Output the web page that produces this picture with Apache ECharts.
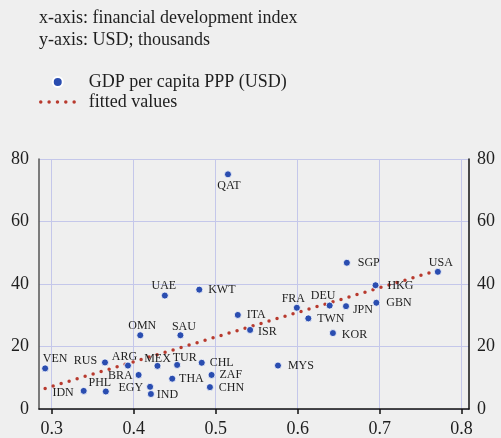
<!DOCTYPE html>
<html>
<head>
<meta charset="utf-8">
<script src="https://cdn.jsdelivr.net/npm/echarts@6/dist/echarts.min.js"></script>
<style>
  html, body { margin: 0; padding: 0; background: #efefef; }
  #chart { width: 501px; height: 438px; }
</style>
</head>
<body>
<div id="chart"></div>
<script>
// Country codes with financial development index (x) and GDP per capita PPP, USD thousands (y)
const countries = ['QAT','UAE','KWT','SGP','USA','HKG','GBN','FRA','DEU','JPN','TWN','ITA','ISR','KOR',
                   'OMN','SAU','VEN','RUS','ARG','MEX','TUR','CHL','MYS','BRA','THA','ZAF','EGY','CHN','IND','IDN','PHL'];
const finDev    = [0.515,0.438,0.480,0.660,0.771,0.695,0.696,0.599,0.639,0.659,0.613,0.527,0.542,0.643,
                   0.408,0.457,0.292,0.365,0.393,0.429,0.453,0.483,0.576,0.406,0.447,0.495,0.420,0.493,0.421,0.339,0.366];
const gdpPpp    = [75.1,36.3,38.2,46.8,43.9,39.6,34.0,32.4,33.1,32.9,29.0,30.1,25.3,24.3,
                   23.6,23.6,13.0,14.9,13.9,13.8,14.1,14.8,13.9,10.9,9.7,10.9,7.1,7.0,4.8,5.8,5.6];

// Fitted regression line, evaluated at the smallest and largest index values
const fitX = [0.292, 0.771];
const fitY = [6.6, 44.4];

const xTicks = [0.3, 0.4, 0.5, 0.6, 0.7, 0.8];
const yTicks = [0, 20, 40, 60, 80];

// Where each country label sits relative to its dot: [position, dx, dy, distance]
const labelPlacement = {
  QAT: ['inside', 1, 11.5], UAE: ['inside', -1, -10], OMN: ['inside', 2, -9.5], SAU: ['inside', 3.5, -8],
  VEN: ['inside', 10, -9.5], ARG: ['inside', -3.5, -9], MEX: ['inside', 0, -7.5], TUR: ['inside', 7.5, -7.5],
  PHL: ['inside', -6, -8.5], USA: ['inside', 3, -8.5], FRA: ['inside', -3.5, -8.5], DEU: ['inside', -6.5, -9.5],
  RUS: ['left', 0, -1.5, 4], BRA: ['left', 0, 1.3, 2], EGY: ['left', 0, 1.3, 3], IDN: ['left', 0, 2, 6],
  KWT: ['right', 0, 0, 5], ITA: ['right', 0, 0, 5], CHL: ['right', 0, 0, 4], THA: ['right', 0, 0, 3],
  ZAF: ['right', 0, 0, 4], CHN: ['right', 0, 1, 5], IND: ['right', 0, 1, 2], SGP: ['right', 0, 0.5, 7],
  HKG: ['right', 0, 1, 8], GBN: ['right', 0, 0, 6], JPN: ['right', 0, 4, 3], TWN: ['right', 0, 0.5, 5],
  KOR: ['right', 0, 1.5, 5], ISR: ['right', 0, 2, 4], MYS: ['right', 0, 0, 6]
};

const serif = '"Liberation Serif", "Times New Roman", serif';
const ink = '#1e1e1e';
const dotBlue = '#2a4db0';
const fitRed = '#b83a2e';

const scatterData = countries.map((c, i) => {
  const p = labelPlacement[c] || ['right', 0, 0, 5];
  return {
    name: c,
    value: [finDev[i], gdpPpp[i]],
    label: { position: p[0], offset: [p[1], p[2]], distance: p[3] || 5 }
  };
});
const fitData = fitX.map((x, i) => [x, fitY[i]]);

const chart = echarts.init(document.getElementById('chart'), null, { renderer: 'canvas' });
chart.setOption({
  backgroundColor: '#efefef',
  animation: false,
  textStyle: { fontFamily: serif, color: ink },
  title: {
    text: 'x-axis: financial development index\ny-axis: USD; thousands',
    left: 39, top: 7, padding: 0,
    textStyle: { fontFamily: serif, fontSize: 18, fontWeight: 'normal', color: ink, lineHeight: 22 }
  },
  legend: {
    orient: 'vertical',
    left: 39, top: 72, padding: 0,
    itemWidth: 34, itemHeight: 10, itemGap: 0,
    data: [
      { name: 'GDP per capita PPP (USD)' },
      { name: 'fitted values', itemStyle: { opacity: 0 } }
    ],
    textStyle: { fontFamily: serif, fontSize: 18, lineHeight: 20, color: ink, padding: [0, 0, 0, 9] },
    lineStyle: { width: 3.5 }
  },
  grid: { left: 39, right: 32, top: 159, bottom: 28, containLabel: false },
  xAxis: {
    type: 'value',
    min: 0.2845, max: 0.809,
    axisLine: { show: true, onZero: false, lineStyle: { color: '#111', width: 1.5 } },
    axisTick: { show: true, customValues: xTicks, length: 5, lineStyle: { color: '#111', width: 1.5 } },
    axisLabel: {
      customValues: xTicks, margin: 11,
      formatter: v => v.toFixed(1),
      fontFamily: serif, fontSize: 18, color: ink
    },
    splitLine: { show: true, lineStyle: { color: '#c4c7ea', width: 1 } }
  },
  yAxis: [
    {
      type: 'value', position: 'left', min: 0, max: 80, interval: 20,
      axisLine: { show: true, lineStyle: { color: '#555', width: 1.5 } },
      axisTick: { show: false },
      axisLabel: { margin: 10, fontFamily: serif, fontSize: 18, color: ink },
      splitLine: { show: true, lineStyle: { color: '#c4c7ea', width: 1 } }
    },
    {
      type: 'value', position: 'right', min: 0, max: 80, interval: 20,
      axisLine: { show: true, lineStyle: { color: '#111', width: 1.5 } },
      axisTick: { show: false },
      axisLabel: { margin: 8, fontFamily: serif, fontSize: 18, color: ink },
      splitLine: { show: false }
    }
  ],
  series: [
    {
      name: 'fitted values',
      type: 'line',
      data: fitData,
      showSymbol: false,
      symbol: 'none',
      color: fitRed,
      lineStyle: { color: fitRed, width: 3.5, type: [0, 8.35], cap: 'round' },
      z: 2
    },
    {
      name: 'GDP per capita PPP (USD)',
      type: 'scatter',
      data: scatterData,
      symbol: 'circle',
      symbolSize: 7,
      color: dotBlue,
      itemStyle: { color: dotBlue, opacity: 1, borderColor: '#ffffff', borderWidth: 0.8 },
      label: {
        show: true,
        formatter: p => p.name,
        fontFamily: serif, fontSize: 12, color: ink
      },
      z: 3
    }
  ]
});
</script>
</body>
</html>
